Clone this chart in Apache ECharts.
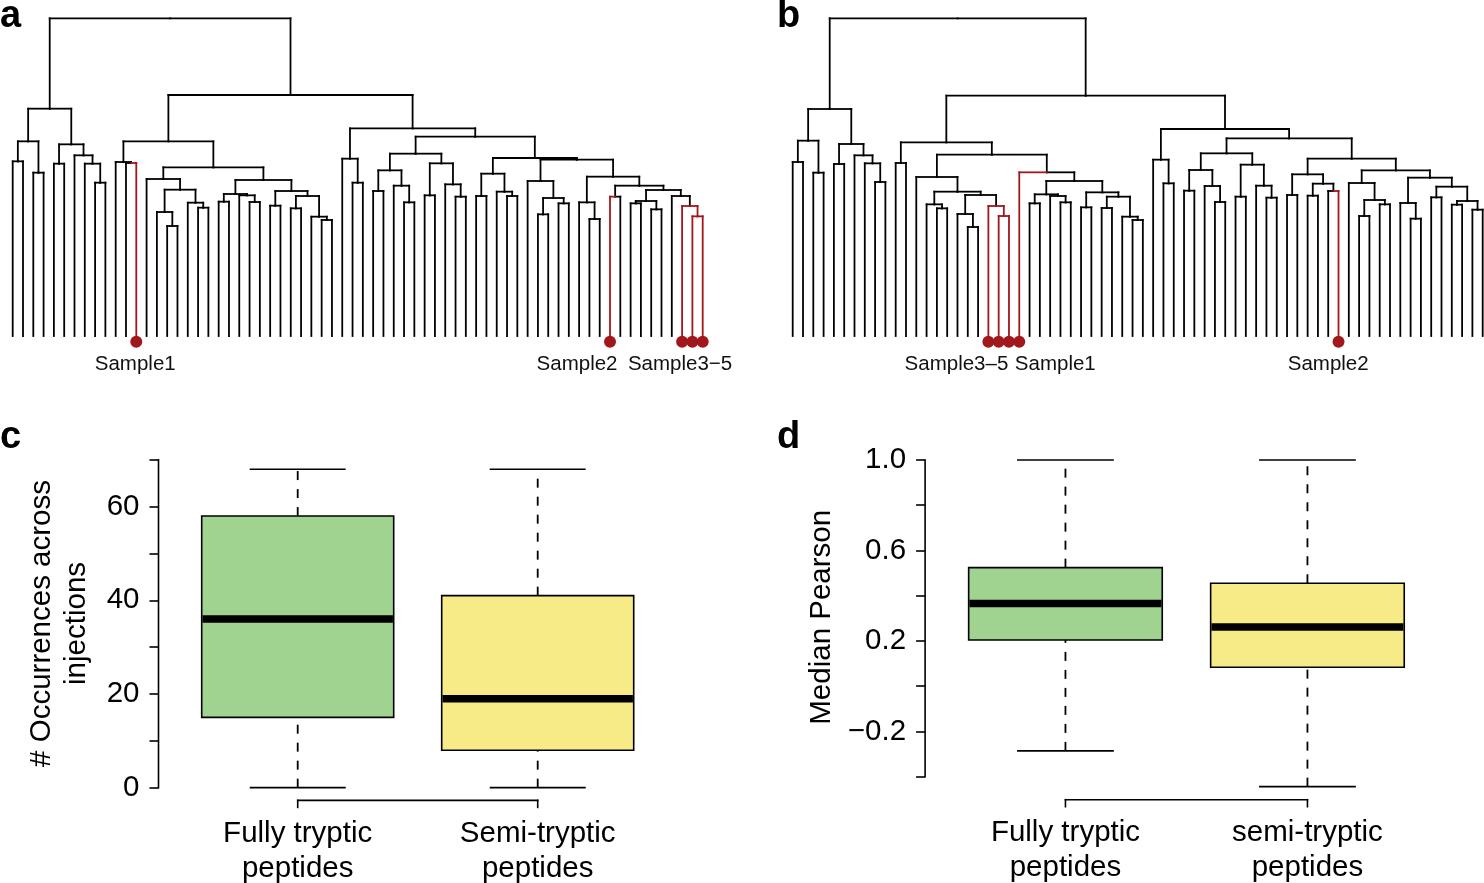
<!DOCTYPE html>
<html><head><meta charset="utf-8">
<script src="https://cdn.jsdelivr.net/npm/echarts@6/dist/echarts.min.js"></script>
<style>html,body{margin:0;padding:0;background:#fff}#c{width:1484px;height:883px}</style>
</head><body><div id="c"></div><script>
// ---------- DATA ----------
// dendrogram nodes: [height, left, right]; leaves are leaf positions (0..67)
const treeA = [95.3,
  [68.2,
    [58.4, [52.4, 0, 1], [49.0, 2, 3]],
    [57.5, [51.7, 4, 5], [54.2, 6, [51.7, 7, [46.0, 8, 9]]]]
  ],
  [72.3,
    [58.4,
      [52.2, 10, [51.9, 11, 12]],
      [50.6,
        [47.1, 13, [43.9, [37.2, 14, [33.0, 15, 16]], [40.0, 17, [38.5, 18, 19]]]],
        [46.8,
          [42.6, [40.3, 20, 21], [42.2, 22, [40.2, 23, 24]]],
          [43.5, [39.1, 25, 26], [42.0, [38.3, 27, 28], [35.8, 29, [34.8, 30, 31]]]]
        ]
      ]
    ],
    [62.3,
      [53.2, 32, [46.0, 33, 34]],
      [59.8,
        [54.7,
          [49.7, [43.5, 35, 36], [45.1, 37, [40.1, 38, 39]]],
          [51.8, [42.2, 40, 41], [45.5, 42, [41.8, 43, 44]]]
        ],
        [53.4,
          [48.7, [42.0, 45, 46], [43.3, 47, [42.0, 48, 49]]],
          [52.9,
            [46.5, 50, [41.4, [36.5, 51, 52], [39.8, 53, 54]]],
            [47.8,
              [40.1, 55, [35.1, 56, 57]],
              [45.1,
                [41.8, 58, 59],
                [43.8,
                  [40.5, [39.8, 60, 61], [38.0, 62, 63]],
                  [42.0, 64, [39.0, 65, [35.9, 66, 67]]]
                ]
              ]
            ]
          ]
        ]
      ]
    ]
  ]
];
const treeB = [95.3,
  [68.1,
    [58.6, [52.2, 0, 1], [49.0, 2, 3]],
    [57.6, [51.6, 4, 5], [54.2, 6, [51.8, 7, [46.2, 8, 9]]]]
  ],
  [72.1,
    [58.1,
      [51.9, 10, 11],
      [54.4,
        [47.7, 12, [43.3, [39.5, 13, [38.3, 14, 15]], [42.3, [36.6, 16, [32.7, 17, 18]], [39.0, 19, [36.0, 20, 21]]]]],
        [49.1, 22,
          [46.5,
            [42.5, [39.8, 23, 24], [42.0, 25, [40.1, 26, 27]]],
            [43.1, [38.6, 28, 29], [41.8, [38.4, 30, 31], [35.8, 32, [34.8, 33, 34]]]]
          ]
        ]
      ]
    ],
    [62.1,
      [52.9, 35, [45.8, 36, 37]],
      [59.3,
        [54.8,
          [49.8, [43.6, 38, 39], [45.0, 40, [40.2, 41, 42]]],
          [51.4, [41.8, 43, 44], [45.1, 45, [41.5, 46, 47]]]
        ],
        [53.2,
          [48.5, [42.3, 48, 49], [45.7, [42.1, 50, 51], [43.5, 52, 53]]],
          [49.7,
            [45.9, 54, [40.8, [36.0, 55, 56], [39.5, 57, 58]]],
            [47.5,
              [39.9, 59, [35.2, 60, 61]],
              [44.8, [41.6, 62, 63], [40.5, [39.4, 64, 65], [37.9, 66, 67]]]
            ]
          ]
        ]
      ]
    ]
  ]
];
const leafCount = 68;
const redLeavesA = [12, 58, 65, 66, 67];
const redLeavesB = [19, 20, 21, 22, 53];
const sampleLabelsA = ['Sample1', 'Sample2', 'Sample3\u22125'];
const sampleLabelAtA = [11.9, 54.8, 64.8];
const sampleLabelsB = ['Sample3\u20135', 'Sample1', 'Sample2'];
const sampleLabelAtB = [15.9, 25.5, 52.0];

const categoriesC = ['Fully tryptic\npeptides', 'Semi-tryptic\npeptides'];
const categoriesD = ['Fully tryptic\npeptides', 'semi-tryptic\npeptides'];
// [lower whisker, Q1, median, Q3, upper whisker]
const occurrences = [[0, 15, 36, 58, 68], [0, 8, 19, 41, 68]];
const pearson = [[-0.286, 0.204, 0.366, 0.524, 1.0], [-0.444, 0.084, 0.262, 0.455, 1.0]];
const ticksC = [0, 10, 20, 30, 40, 50, 60, 70];
const tickLabelsC = [0, 20, 40, 60];
const ticksD = [-0.4, -0.2, 0, 0.2, 0.4, 0.6, 0.8, 1.0];
const tickLabelsD = [-0.2, 0.2, 0.6, 1.0];

// ---------- STYLE ----------
const RED = '#A2171C';
const INK = '#000';
const FONT = '"Liberation Sans", Arial, Helvetica, sans-serif';
const BOXFONT = 29.5;
const boxColors = ['#A0D38F', '#F6EB86'];

// ---------- helpers ----------
function treeSegments(tree, red) {
  const redSet = new Set(red);
  const segs = [];
  function walk(node) {
    if (typeof node === 'number') return { x: node, h: 0, allRed: redSet.has(node), leaf: true };
    const h = node[0];
    const a = walk(node[1]), b = walk(node[2]);
    const x = (a.x + b.x) / 2;
    const allRed = a.allRed && b.allRed;
    [a, b].forEach(c => {
      const r = ((c.leaf && c.allRed) || (!c.leaf && allRed)) ? 1 : 0;
      segs.push([x, h, c.x, h, r]);
      segs.push([c.x, h, c.x, c.h, r]);
    });
    return { x, h, allRed, leaf: false };
  }
  walk(tree);
  segs.sort((p, q) => p[4] - q[4]);
  return segs;
}
function paddedRange(stats) {
  const all = stats.flat();
  const lo = Math.min(...all), hi = Math.max(...all);
  const pad = 0.04 * (hi - lo);
  return [lo - pad, hi + pad];
}
const rangeC = paddedRange(occurrences);
const rangeD = paddedRange(pearson);

function segRender(params, api) {
  const p1 = api.coord([api.value(0), api.value(1)]);
  const p2 = api.coord([api.value(2), api.value(3)]);
  return { type: 'line', shape: { x1: p1[0], y1: p1[1], x2: p2[0], y2: p2[1] },
    style: { stroke: api.value(4) ? RED : INK, lineWidth: 1.8, lineCap: 'square' } };
}
function axisRender(params, api) {
  const p1 = api.coord([api.value(0), api.value(1)]);
  const p2 = api.coord([api.value(2), api.value(3)]);
  const st = { stroke: '#000', lineWidth: 1.6, lineCap: 'square' };
  const children = [{ type: 'line', shape: { x1: p1[0], y1: p1[1], x2: p2[0], y2: p2[1] }, style: st }];
  if (api.value(4)) { // bracket with downward ticks at both ends
    children.push({ type: 'line', shape: { x1: p1[0], y1: p1[1], x2: p1[0], y2: p1[1] + 7 }, style: st });
    children.push({ type: 'line', shape: { x1: p2[0], y1: p2[1], x2: p2[0], y2: p2[1] + 7 }, style: st });
  }
  return { type: 'group', children };
}
function textRender(labels) {
  return function (params, api) {
    const p = api.coord([api.value(0), api.value(1)]);
    return { type: 'text', x: p[0], y: p[1],
      style: { text: labels[params.dataIndex], fill: '#111', font: '20.5px ' + FONT, align: 'center', verticalAlign: 'middle' } };
  };
}
function boxRender(params, api) {
  const x = api.value(0);
  const v = [1, 2, 3, 4, 5].map(i => api.value(i));
  const cx = api.coord([x, 0])[0];
  const y = t => api.coord([x, t])[1];
  const hw = api.size([0.4, 0])[0];
  const cw = api.size([0.2, 0])[0];
  const thin = { stroke: '#000', lineWidth: 1.6 };
  const dash = { stroke: '#000', lineWidth: 1.8, lineDash: [9, 9] };
  return { type: 'group', children: [
    { type: 'line', shape: { x1: cx, y1: y(v[0]), x2: cx, y2: y(v[1]) }, style: dash },
    { type: 'line', shape: { x1: cx, y1: y(v[3]), x2: cx, y2: y(v[4]) }, style: dash },
    { type: 'line', shape: { x1: cx - cw, y1: y(v[0]), x2: cx + cw, y2: y(v[0]) }, style: thin },
    { type: 'line', shape: { x1: cx - cw, y1: y(v[4]), x2: cx + cw, y2: y(v[4]) }, style: thin },
    { type: 'rect', shape: { x: cx - hw, y: y(v[3]), width: 2 * hw, height: y(v[1]) - y(v[3]) },
      style: { fill: boxColors[params.dataIndex], stroke: '#000', lineWidth: 1.6 } },
    { type: 'line', shape: { x1: cx - hw + 0.8, y1: y(v[2]), x2: cx + hw - 0.8, y2: y(v[2]) },
      style: { stroke: '#000', lineWidth: 7.5, lineCap: 'butt' } }
  ] };
}
const fmtNum = t => (t < 0 ? '\u2212' : '') + Math.abs(t).toFixed(1);

const hidden = { show: false };
function dendroAxes(gi) {
  return {
    x: { type: 'value', gridIndex: gi, min: 0, max: leafCount - 1, show: false },
    y: { type: 'value', gridIndex: gi, min: -10, max: 100, show: false }
  };
}
const dA = dendroAxes(0), dB = dendroAxes(1);

function boxXAxis(gi, cats) {
  return { type: 'value', gridIndex: gi, min: 0.42, max: 2.58,
    axisLine: hidden, splitLine: hidden, axisTick: hidden,
    axisLabel: { show: true, customValues: [1, 2], formatter: t => cats[Math.round(t) - 1] || '',
      fontSize: BOXFONT, lineHeight: 35, color: '#000', fontFamily: FONT, margin: 16 } };
}
function boxYAxis(gi, range, ticks, labels, name, gap, fmt, shift) {
  return { type: 'value', gridIndex: gi, min: range[0], max: range[1],
    axisLine: hidden, splitLine: hidden,
    axisTick: { show: true, customValues: ticks, length: 9, lineStyle: { color: '#000', width: 1.6 } },
    axisLabel: { show: true, customValues: labels, formatter: fmt, fontSize: BOXFONT, color: '#000', fontFamily: FONT, margin: 19 },
    name: name, nameLocation: 'middle', nameGap: gap,
    nameTextStyle: { fontSize: BOXFONT, lineHeight: 35, color: '#000', fontFamily: FONT, padding: [0, 0, 0, shift] } };
}
function spineData(range, ticks) {
  return [[0.42, ticks[0], 0.42, ticks[ticks.length - 1], 0], [1, range[0], 2, range[0], 1]];
}

const chart = echarts.init(document.getElementById('c'), null, { renderer: 'canvas' });
chart.setOption({
  animation: false,
  backgroundColor: '#fff',
  grid: [
    { left: 12.7, top: 2.667, width: 690, height: 366.67, outerBoundsMode: 'none', containLabel: false },
    { left: 792.7, top: 2.667, width: 690, height: 366.67, outerBoundsMode: 'none', containLabel: false },
    { left: 158.5, top: 456.5, width: 518.4, height: 343.9, outerBoundsMode: 'none', containLabel: false },
    { left: 925.1, top: 446.9, width: 522.7, height: 352.8, outerBoundsMode: 'none', containLabel: false }
  ],
  xAxis: [dA.x, dB.x, boxXAxis(2, categoriesC), boxXAxis(3, categoriesD)],
  yAxis: [dA.y, dB.y,
    boxYAxis(2, rangeC, ticksC, tickLabelsC, '# Occurrences across\ninjections', 64, t => String(Math.round(t)), 10),
    boxYAxis(3, rangeD, ticksD, tickLabelsD, 'Median Pearson', 86, fmtNum, 12)],
  graphic: [
    { type: 'text', x: 0, y: 17, style: { text: 'a', font: 'bold 38px ' + FONT, fill: '#000', verticalAlign: 'middle' } },
    { type: 'text', x: 777, y: 17, style: { text: 'b', font: 'bold 38px ' + FONT, fill: '#000', verticalAlign: 'middle' } },
    { type: 'text', x: 0, y: 438, style: { text: 'c', font: 'bold 38px ' + FONT, fill: '#000', verticalAlign: 'middle' } },
    { type: 'text', x: 777, y: 438, style: { text: 'd', font: 'bold 38px ' + FONT, fill: '#000', verticalAlign: 'middle' } }
  ],
  series: [
    { type: 'custom', name: 'dendroA', xAxisIndex: 0, yAxisIndex: 0, renderItem: segRender,
      encode: { x: [0, 2], y: [1, 3] }, data: treeSegments(treeA, redLeavesA), silent: true },
    { type: 'custom', name: 'dendroB', xAxisIndex: 1, yAxisIndex: 1, renderItem: segRender,
      encode: { x: [0, 2], y: [1, 3] }, data: treeSegments(treeB, redLeavesB), silent: true },
    { type: 'scatter', xAxisIndex: 0, yAxisIndex: 0, symbolSize: 12, itemStyle: { color: RED, opacity: 1 },
      data: redLeavesA.map(i => [i, -1.7]), silent: true },
    { type: 'scatter', xAxisIndex: 1, yAxisIndex: 1, symbolSize: 12, itemStyle: { color: RED, opacity: 1 },
      data: redLeavesB.map(i => [i, -1.7]), silent: true },
    { type: 'custom', xAxisIndex: 0, yAxisIndex: 0, renderItem: textRender(sampleLabelsA),
      data: sampleLabelAtA.map(p => [p, -8.4]), silent: true },
    { type: 'custom', xAxisIndex: 1, yAxisIndex: 1, renderItem: textRender(sampleLabelsB),
      data: sampleLabelAtB.map(p => [p, -8.4]), silent: true },
    { type: 'custom', xAxisIndex: 2, yAxisIndex: 2, renderItem: boxRender,
      encode: { x: 0, y: [1, 2, 3, 4, 5] }, data: occurrences.map((s, i) => [i + 1, ...s]), silent: true },
    { type: 'custom', xAxisIndex: 3, yAxisIndex: 3, renderItem: boxRender,
      encode: { x: 0, y: [1, 2, 3, 4, 5] }, data: pearson.map((s, i) => [i + 1, ...s]), silent: true },
    { type: 'custom', xAxisIndex: 2, yAxisIndex: 2, renderItem: axisRender,
      encode: { x: [0, 2], y: [1, 3] }, data: spineData(rangeC, ticksC), silent: true },
    { type: 'custom', xAxisIndex: 3, yAxisIndex: 3, renderItem: axisRender,
      encode: { x: [0, 2], y: [1, 3] }, data: spineData(rangeD, ticksD), silent: true }
  ]
});
</script></body></html>
